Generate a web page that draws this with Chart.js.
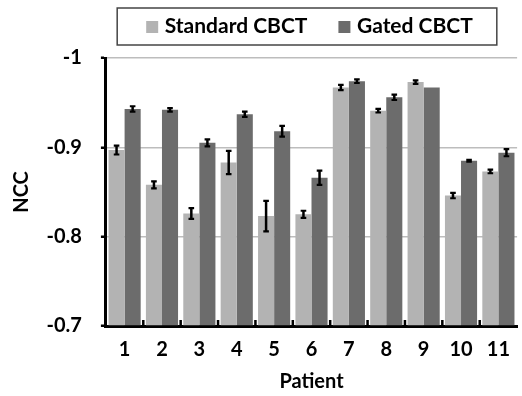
<!DOCTYPE html>
<html>
<head>
<meta charset="utf-8">
<script src="https://cdn.jsdelivr.net/npm/chart.js@4/dist/chart.umd.min.js"></script>
<style>
html,body{margin:0;padding:0;background:#fff;}
#wrap{width:522px;height:396px;}
</style>
</head>
<body>
<div id="wrap"><canvas id="c" width="522" height="396"></canvas></div>
<script>
const patients = ['1','2','3','4','5','6','7','8','9','10','11'];
const seriesNames = ['Standard CBCT','Gated CBCT'];
const standardNCC = [-0.897,-0.858,-0.826,-0.883,-0.823,-0.825,-0.967,-0.941,-0.973,-0.846,-0.873];
const standardErr = [0.005,0.004,0.006,0.013,0.017,0.004,0.003,0.002,0.002,0.003,0.002];
const gatedNCC = [-0.943,-0.942,-0.905,-0.937,-0.918,-0.866,-0.974,-0.956,-0.967,-0.885,-0.894];
const gatedErr = [0.003,0.002,0.004,0.003,0.006,0.008,0.002,0.003,0,0.001,0.004];
const yTicks = [-1,-0.9,-0.8,-0.7];

const FONT = 'Lato, "Open Sans", sans-serif';

const errorBars = {
  id:'errorBars',
  afterDatasetsDraw(chart){
    const ctx = chart.ctx, ys = chart.scales.y;
    const errs = [standardErr, gatedErr];
    chart.data.datasets.forEach((ds,i)=>{
      const meta = chart.getDatasetMeta(i);
      meta.data.forEach((el,j)=>{
        const e = errs[i][j];
        if(!e) return;
        const v = ds.data[j];
        const y1 = ys.getPixelForValue(v - e), y2 = ys.getPixelForValue(v + e);
        ctx.save();
        ctx.strokeStyle = '#000';
        ctx.lineWidth = 2.5;
        ctx.beginPath(); ctx.moveTo(el.x, y1); ctx.lineTo(el.x, y2); ctx.stroke();
        ctx.lineWidth = 2.2;
        ctx.beginPath();
        ctx.moveTo(el.x-2.8, y1); ctx.lineTo(el.x+2.8, y1);
        ctx.moveTo(el.x-2.8, y2); ctx.lineTo(el.x+2.8, y2);
        ctx.stroke();
        ctx.restore();
      });
    });
  }
};

const innerXTicks = {
  id:'innerXTicks',
  afterDraw(chart){
    const ctx = chart.ctx, xs = chart.scales.x, area = chart.chartArea;
    const n = xs.ticks.length;
    ctx.save();
    ctx.strokeStyle = '#000';
    ctx.lineWidth = 2.5;
    ctx.beginPath();
    for(let i=1;i<n;i++){
      const x = (xs.getPixelForTick(i-1)+xs.getPixelForTick(i))/2;
      ctx.moveTo(x, area.bottom); ctx.lineTo(x, area.bottom-6);
    }
    ctx.stroke();
    ctx.restore();
  }
};

// Boxed legend drawn from the datasets' labels and colours
const boxedLegend = {
  id:'boxedLegend',
  afterDraw(chart){
    const ctx = chart.ctx, area = chart.chartArea;
    const ds = chart.data.datasets;
    ctx.save();
    ctx.font = 'bold 21px ' + FONT;
    const box = 12, gapText = 6.5, gapItem = 31, padL = 29, padR = 24;
    const widths = ds.map(d=>ctx.measureText(d.label).width);
    let content = 0;
    widths.forEach((w,i)=>{ content += box + gapText + w + (i < widths.length-1 ? gapItem : 0); });
    const frameW = content + padL + padR;
    const cx = (area.left + area.right)/2 - 4.5;
    const fl = cx - frameW/2, ft = 8, fh = 37;
    ctx.strokeStyle = '#444';
    ctx.lineWidth = 1.5;
    ctx.strokeRect(fl, ft, frameW, fh);
    let x = fl + padL;
    const cy = ft + fh/2;
    ds.forEach((d,i)=>{
      ctx.fillStyle = d.backgroundColor;
      ctx.fillRect(x, cy - box/2 + 0.5, box, box);
      x += box + gapText;
      ctx.fillStyle = '#000';
      ctx.textBaseline = 'middle';
      ctx.textAlign = 'left';
      ctx.fillText(d.label, x, cy);
      x += widths[i] + gapItem;
    });
    ctx.restore();
  }
};

new Chart(document.getElementById('c'), {
  type:'bar',
  data:{
    labels: patients,
    datasets:[
      {label: seriesNames[0], data: standardNCC, backgroundColor:'#b3b3b3', base:-0.7, borderWidth:0},
      {label: seriesNames[1], data: gatedNCC, backgroundColor:'#6c6c6c', base:-0.7, borderWidth:0}
    ]
  },
  options:{
    responsive:false,
    animation:false,
    devicePixelRatio:1,
    layout:{padding:{top:58,right:-9,left:4,bottom:2}},
    datasets:{bar:{categoryPercentage:0.86, barPercentage:1.0}},
    plugins:{
      tooltip:{enabled:false},
      legend:{display:false}
    },
    scales:{
      x:{
        grid:{display:false, drawTicks:false},
        border:{display:true, color:'#000', width:3},
        ticks:{color:'#000', padding:12, font:{family:FONT, size:20, weight:'bold'}},
        title:{display:true, text:'Patient', color:'#000', padding:{top:-4,bottom:0}, font:{family:FONT, size:20, weight:'bold'}}
      },
      y:{
        reverse:true,
        min:-1, max:-0.7,
        afterBuildTicks(scale){ scale.ticks = yTicks.map(v=>({value:v})); },
        ticks:{color:'#000', padding:19, font:{family:FONT, size:20, weight:'bold'},
          callback:(v)=>String(Math.round(v*10)/10)},
        grid:{color:'#bdbdbd', lineWidth:1.5, drawTicks:true, tickLength:5, tickColor:'#000', tickWidth:2.5},
        border:{display:true, color:'#000', width:3},
        title:{display:true, text:'NCC', color:'#000', padding:{top:5.5,bottom:-6}, font:{family:FONT, size:20, weight:'bold'}}
      }
    }
  },
  plugins:[errorBars, innerXTicks, boxedLegend]
});
</script>
</body>
</html>
